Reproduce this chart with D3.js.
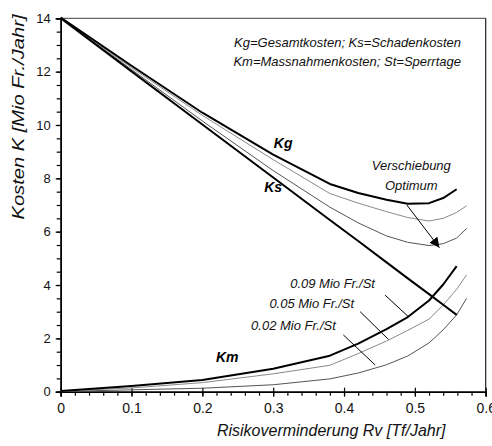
<!DOCTYPE html>
<html>
<head>
<meta charset="utf-8">
<script src="https://cdn.jsdelivr.net/npm/d3@7"></script>
<style>
  html, body { margin: 0; padding: 0; background: #fff; }
  svg { display: block; font-family: "Liberation Sans", Arial, sans-serif; }
</style>
</head>
<body>
<svg id="chart" width="492" height="446"></svg>
<script>
// Risikoverminderung Rv [Tf/Jahr]
const rv = [0, 0.1, 0.2, 0.3, 0.38, 0.42, 0.46, 0.49, 0.52, 0.54, 0.559, 0.573];

// Schadenkosten Ks
const ks = [14.0, 12.01, 10.02, 8.03, 6.44, 5.65, 4.85, 4.25, 3.66, 3.26, 2.88, null];

// Massnahmenkosten Km for the three Sperrtage rates
const km09 = [0.03, 0.21, 0.44, 0.86, 1.35, 1.80, 2.35, 2.80, 3.42, 4.02, 4.71, null];
const km05 = [0.02, 0.14, 0.34, 0.67, 0.99, 1.43, 1.90, 2.30, 2.72, 3.25, 3.84, 4.38];
const km02 = [0.01, 0.07, 0.13, 0.26, 0.48, 0.70, 1.01, 1.34, 1.83, 2.32, 2.88, 3.50];

// Gesamtkosten Kg for the three rates
const kg09 = [14.03, 12.22, 10.46, 8.89, 7.79, 7.45, 7.20, 7.05, 7.07, 7.26, 7.59, null];
const kg05 = [14.02, 12.15, 10.36, 8.70, 7.43, 7.07, 6.75, 6.53, 6.40, 6.50, 6.72, 6.97];
const kg02 = [14.01, 12.08, 10.15, 8.29, 6.92, 6.33, 5.84, 5.60, 5.48, 5.55, 5.76, 6.12];

const xTicks = [0, 0.1, 0.2, 0.3, 0.4, 0.5, 0.6];
const xTickLabels = ["0", "0.1", "0.2", "0.3", "0.4", "0.5", "0.6"];
const yTicks = [0, 2, 4, 6, 8, 10, 12, 14];
const yTickLabels = ["0", "2", "4", "6", "8", "10", "12", "14"];

const rateLabels = ["0.09 Mio Fr./St", "0.05 Mio Fr./St", "0.02 Mio Fr./St"];

const svg = d3.select("#chart");
const x = d3.scaleLinear().domain([0, 0.6]).range([60.7, 485.7]);
const y = d3.scaleLinear().domain([0, 14]).range([391.7, 18.3]);

// frame (top and right)
svg.append("line").attr("x1", x(0)).attr("x2", x(0.6)).attr("y1", y(14)).attr("y2", y(14))
  .attr("stroke", "#666").attr("stroke-width", 1.2);
svg.append("line").attr("x1", x(0.6)).attr("x2", x(0.6)).attr("y1", y(14)).attr("y2", y(0))
  .attr("stroke", "#222").attr("stroke-width", 1.2);

// x axis: minor ticks down, major ticks crossing
const minorX = d3.range(0, 0.6001, 0.02);
const gxMinor = svg.append("g").attr("transform", `translate(0,${y(0)})`)
  .call(d3.axisBottom(x).tickValues(minorX).tickSize(4).tickFormat(""));
const gxMajorUp = svg.append("g").attr("transform", `translate(0,${y(0)})`)
  .call(d3.axisTop(x).tickValues(xTicks).tickSize(4).tickFormat(""));
const gx = svg.append("g").attr("transform", `translate(0,${y(0)})`)
  .call(d3.axisBottom(x).tickValues(xTicks).tickSize(5).tickPadding(6)
    .tickFormat((d, i) => xTickLabels[i]));
[gxMinor, gxMajorUp, gx].forEach(g => {
  g.selectAll(".domain").attr("stroke", "#000").attr("stroke-width", 1.5);
  g.selectAll(".tick line").attr("stroke", "#000").attr("stroke-width", 1.2);
});
gxMajorUp.select(".domain").remove();
gx.selectAll("text").attr("font-size", 14).attr("fill", "#111")
  .attr("font-family", "Liberation Sans, Arial, sans-serif");

// y axis: ticks outward every 0.5
const minorY = d3.range(0, 14.001, 0.5);
const gyMinor = svg.append("g").attr("transform", `translate(${x(0)},0)`)
  .call(d3.axisLeft(y).tickValues(minorY).tickSize(4).tickFormat(""));
const gy = svg.append("g").attr("transform", `translate(${x(0)},0)`)
  .call(d3.axisLeft(y).tickValues(yTicks).tickSize(5).tickPadding(5)
    .tickFormat((d, i) => yTickLabels[i]));
[gyMinor, gy].forEach(g => {
  g.selectAll(".domain").attr("stroke", "#000").attr("stroke-width", 1.5);
  g.selectAll(".tick line").attr("stroke", "#000").attr("stroke-width", 1.2);
});
gy.selectAll("text").attr("font-size", 13).attr("fill", "#111")
  .attr("font-family", "Liberation Sans, Arial, sans-serif");

// axis titles
svg.append("text")
  .attr("x", x(0.3) + 58).attr("y", 436)
  .attr("text-anchor", "middle").attr("font-size", 16).attr("font-style", "italic")
  .attr("fill", "#111")
  .text("Risikoverminderung Rv [Tf/Jahr]");
svg.append("text")
  .attr("transform", "translate(24,117) rotate(-90)")
  .attr("text-anchor", "middle").attr("font-size", 17).attr("font-style", "italic")
  .attr("fill", "#111")
  .attr("textLength", 205).attr("lengthAdjust", "spacingAndGlyphs")
  .text("Kosten K [Mio Fr./Jahr]");

// curves
const line = vals => d3.line()
  .defined((d, i) => vals[i] != null)
  .x((d, i) => x(rv[i]))
  .y((d, i) => y(vals[i]))(rv);

const series = [
  { v: km02, c: "#555", w: 1 },
  { v: km05, c: "#8a8a8a", w: 1 },
  { v: kg02, c: "#555", w: 1 },
  { v: kg05, c: "#8a8a8a", w: 1 },
  { v: ks,   c: "#000", w: 2 },
  { v: km09, c: "#000", w: 2 },
  { v: kg09, c: "#000", w: 2 }
];
svg.append("g").selectAll("path").data(series).join("path")
  .attr("d", d => line(d.v))
  .attr("fill", "none")
  .attr("stroke", d => d.c)
  .attr("stroke-width", d => d.w)
  .attr("stroke-linejoin", "round");

// legend text
const legend = svg.append("g").attr("font-size", 13).attr("font-style", "italic").attr("fill", "#111");
legend.append("text").attr("x", 461).attr("y", 47).attr("text-anchor", "end")
  .text("Kg=Gesamtkosten; Ks=Schadenkosten");
legend.append("text").attr("x", 461).attr("y", 66).attr("text-anchor", "end")
  .text("Km=Massnahmenkosten; St=Sperrtage");

// curve names
const names = [
  { t: "Kg", v: 0.314, k: 9.32 },
  { t: "Ks", v: 0.300, k: 7.68 },
  { t: "Km", v: 0.235, k: 1.30 }
];
svg.append("g").selectAll("text").data(names).join("text")
  .attr("x", d => x(d.v)).attr("y", d => y(d.k) + 5)
  .attr("text-anchor", "middle")
  .attr("font-size", 14).attr("font-weight", "bold").attr("font-style", "italic")
  .attr("fill", "#000")
  .text(d => d.t);

// shift of the optimum
svg.append("text").attr("x", x(0.495)).attr("y", y(8.5) + 5)
  .attr("text-anchor", "middle").attr("font-size", 13).attr("font-style", "italic").attr("fill", "#111")
  .text("Verschiebung");
svg.append("text").attr("x", x(0.495)).attr("y", y(7.75) + 5)
  .attr("text-anchor", "middle").attr("font-size", 13).attr("font-style", "italic").attr("fill", "#111")
  .text("Optimum");

svg.append("defs").append("marker")
  .attr("id", "head").attr("viewBox", "0 0 10 10")
  .attr("refX", 10).attr("refY", 5)
  .attr("markerWidth", 10).attr("markerHeight", 10)
  .attr("markerUnits", "userSpaceOnUse")
  .attr("orient", "auto")
  .append("path").attr("d", "M0,0 L10,5 L0,10 Z").attr("fill", "#000");
svg.append("line")
  .attr("x1", x(0.4887)).attr("y1", y(7.0))
  .attr("x2", x(0.5347)).attr("y2", y(5.40))
  .attr("stroke", "#000").attr("stroke-width", 1)
  .attr("marker-end", "url(#head)");

// rate labels with leader lines
const rates = [
  { t: rateLabels[0], v: 0.324,  k: 4.06, a: [0.458, 3.62], b: [0.491, 2.81] },
  { t: rateLabels[1], v: 0.2946, k: 3.31, a: [0.4227, 3.0], b: [0.4627, 1.96] },
  { t: rateLabels[2], v: 0.2688, k: 2.50, a: [0.399, 2.13], b: [0.444, 1.0] }
];
const rg = svg.append("g");
rg.selectAll("text").data(rates).join("text")
  .attr("x", d => x(d.v)).attr("y", d => y(d.k) + 5)
  .attr("font-size", 13).attr("font-style", "italic").attr("fill", "#111")
  .text(d => d.t);
rg.selectAll("line").data(rates).join("line")
  .attr("x1", d => x(d.a[0])).attr("y1", d => y(d.a[1]))
  .attr("x2", d => x(d.b[0])).attr("y2", d => y(d.b[1]))
  .attr("stroke", "#000").attr("stroke-width", 1);
</script>
</body>
</html>
